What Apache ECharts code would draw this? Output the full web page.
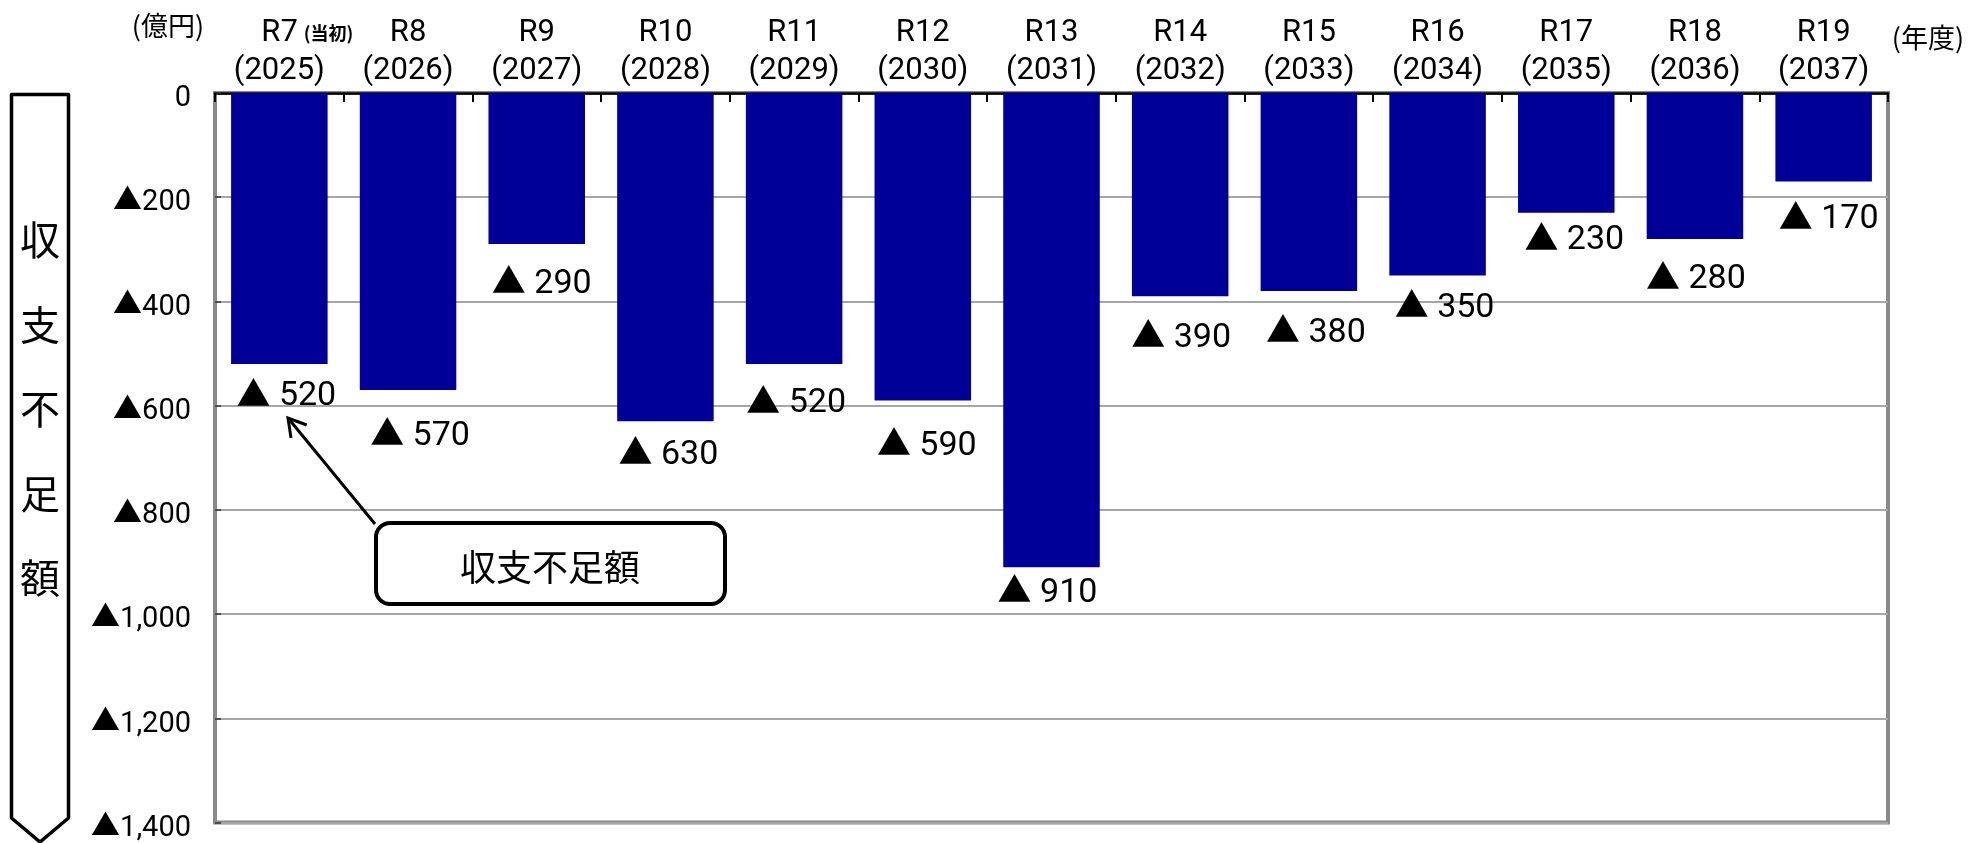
<!DOCTYPE html>
<html>
<head>
<meta charset="utf-8">
<script src="https://cdn.jsdelivr.net/npm/echarts@6/dist/echarts.min.js"></script>
<style>
  html, body { margin: 0; padding: 0; background: #fff; }
  #chart { width: 1968px; height: 843px; }
</style>
</head>
<body>
<div id="chart"></div>
<script>
// ---- data ----
const eras = ['R7', 'R8', 'R9', 'R10', 'R11', 'R12', 'R13', 'R14', 'R15', 'R16', 'R17', 'R18', 'R19'];
const years = ['2025', '2026', '2027', '2028', '2029', '2030', '2031', '2032', '2033', '2034', '2035', '2036', '2037'];
const deficit = [-520, -570, -290, -630, -520, -590, -910, -390, -380, -350, -230, -280, -170];
const yMin = -1400;
const yMax = 0;
const yStep = 200;

// ---- layout: hand-placed label nudges (px) as in the original ----
const labelNudgeX = [7, 12, 5, 3, 2, 4, -4, 1, 7, 7, 8, 1, 5];
const labelNudgeY = [-1, 12, 6, 0, 6, 12, -8, 8, 8, -1, -6, 7, 4];

const numFont = "Roboto, 'Noto Sans CJK JP', sans-serif";
const jpFont = "'Noto Sans CJK JP', sans-serif";

function fmtTri(v, sep) {
  if (v === 0) return '{v|0}';
  return '{t|▲}{v|' + sep + Math.abs(v).toLocaleString('en-US') + '}';
}

const chart = echarts.init(document.getElementById('chart'), null, { renderer: 'canvas' });

const option = {
  animation: false,
  backgroundColor: '#ffffff',
  grid: {
    left: 215, right: 80, top: 93, bottom: 20,
    show: true,
    borderColor: '#8a8a8a',
    borderWidth: 4,
    backgroundColor: 'transparent'
  },
  xAxis: {
    type: 'category',
    position: 'top',
    data: eras.map((e, i) => e + '\n(' + years[i] + ')'),
    boundaryGap: true,
    axisLine: { show: true, lineStyle: { color: '#000', width: 2.5 } },
    axisTick: { show: true, inside: true, length: 9, alignWithLabel: false, lineStyle: { color: '#000', width: 2 } },
    axisLabel: {
      interval: 0,
      margin: 3,
      color: '#000',
      fontSize: 31,
      lineHeight: 38,
      fontFamily: numFont,
      formatter: function (val, idx) {
        const parts = val.split('\n');
        if (idx === 0) {
          return '{sp| }' + parts[0] + '{s|(当初)}\n' + parts[1];
        }
        return val;
      },
      rich: {
        sp: { width: 56, fontSize: 18 },
        s: { fontSize: 18, fontWeight: 'bold', fontFamily: jpFont, color: '#000', padding: [0, 0, 0, 6] }
      }
    },
    splitLine: { show: false }
  },
  yAxis: {
    type: 'value',
    min: yMin,
    max: yMax,
    interval: yStep,
    axisLine: { show: false },
    axisTick: { show: true, inside: true, length: 6, lineStyle: { color: '#333', width: 1.5 } },
    axisLabel: {
      margin: 24,
      color: '#000',
      fontSize: 29,
      fontFamily: numFont,
      formatter: v => fmtTri(v, ''),
      rich: {
        t: { fontSize: 29, fontFamily: jpFont, color: '#000', padding: [4, 0, 0, 0] },
        v: { fontSize: 29, fontFamily: numFont, color: '#000', padding: [12, 0, 0, 0] }
      }
    },
    splitLine: { show: true, lineStyle: { color: '#a6a6a6', width: 2 } }
  },
  series: [{
    type: 'bar',
    data: deficit.map((v, i) => ({
      value: v,
      label: { offset: [labelNudgeX[i], labelNudgeY[i]] }
    })),
    barWidth: '75%',
    itemStyle: { color: '#000099' },
    label: {
      show: true,
      position: 'bottom',
      distance: 9,
      color: '#000',
      fontSize: 34,
      fontFamily: numFont,
      formatter: p => fmtTri(p.value, ' '),
      rich: {
        t: { fontSize: 34, fontFamily: jpFont, color: '#000', padding: [0, 0, 0, 0] },
        v: { fontSize: 34, fontFamily: numFont, color: '#000', padding: [8, 0, 0, 0] }
      }
    }
  }],
  graphic: [
    {
      type: 'polygon',
      shape: { points: [[11.5, 94.5], [68.5, 94.5], [68.5, 818], [40, 842], [11.5, 818]] },
      style: { fill: '#fff', stroke: '#000', lineWidth: 3.5, lineJoin: 'round' },
      z: 10
    },
    {
      type: 'text',
      x: 40, y: 409,
      style: {
        text: '収\n支\n不\n足\n額',
        fontSize: 40, lineHeight: 84.5,
        fontFamily: jpFont,
        fill: '#000',
        align: 'center', verticalAlign: 'middle'
      },
      z: 11
    },
    {
      type: 'rect',
      shape: { x: 376, y: 523, width: 349, height: 81, r: 14 },
      style: { fill: '#fff', stroke: '#000', lineWidth: 4 },
      z: 10
    },
    {
      type: 'text',
      x: 550, y: 567,
      style: {
        text: '収支不足額',
        fontSize: 36,
        fontFamily: jpFont,
        fill: '#000',
        align: 'center', verticalAlign: 'middle'
      },
      z: 11
    },
    {
      type: 'line',
      shape: { x1: 375, y1: 524, x2: 288, y2: 418 },
      style: { stroke: '#000', lineWidth: 3 },
      z: 10
    },
    {
      type: 'polyline',
      shape: { points: [[306.7, 425], [288, 418], [291, 438]] },
      style: { stroke: '#000', lineWidth: 3, fill: null, lineJoin: 'miter' },
      z: 10
    },
    {
      type: 'text',
      x: 168, y: 26,
      style: {
        text: '(億円)', fontSize: 27, fontFamily: jpFont, fill: '#000',
        align: 'center', verticalAlign: 'middle'
      }
    },
    {
      type: 'text',
      x: 1928, y: 38,
      style: {
        text: '(年度)', fontSize: 27, fontFamily: jpFont, fill: '#000',
        align: 'center', verticalAlign: 'middle'
      }
    }
  ]
};

chart.setOption(option);
</script>
</body>
</html>
